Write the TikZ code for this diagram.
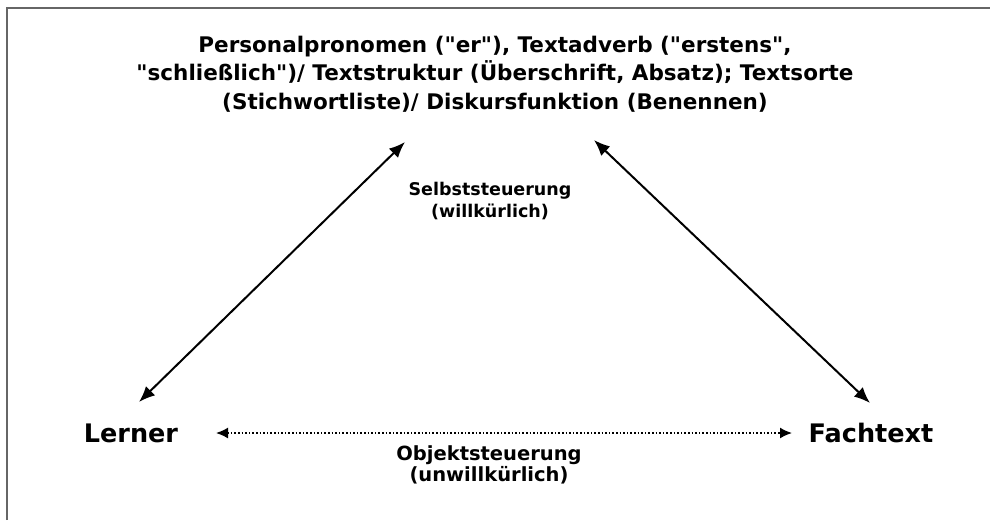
\documentclass[tikz,border=0pt]{standalone}
\usepackage{fontspec}
\setmainfont{DejaVu Sans}
\newfontfamily\headfont{DejaVu Sans Bold}
\usetikzlibrary{arrows.meta}
\tikzset{
  title/.style={font=\headfont\fontsize{21.5}{28.5}\selectfont, align=center},
  pole/.style={font=\headfont\fontsize{25.5}{30}\selectfont},
  lbl/.style={font=\headfont\fontsize{#1}{21.5}\selectfont, align=center, inner sep=0pt},
  link/.style={line width=2pt, {Latex[length=16pt,width=13pt]}-{Latex[length=16pt,width=13pt]}},
  dotlink/.style={line width=1.6pt, dotted, {Latex[length=12pt,width=11pt]}-{Latex[length=12pt,width=11pt]}},
}
\begin{document}
\begin{tikzpicture}[x=1pt,y=-1pt]
  % page and frame
  \fill[white] (0,0) rectangle (990,520);
  \useasboundingbox (0,0) rectangle (990,520);
  \draw[gray!80!black, line width=2pt] (7,520) -- (7,7.5) -- (990,7.5);

  % nodes
  \node[title] (top) at (495,74) {Personalpronomen ("er"), Textadverb ("erstens",\\
    "schließlich")/ Textstruktur (Überschrift, Absatz); Textsorte\\
    (Stichwortliste)/ Diskursfunktion (Benennen)};
  \node[pole] (lern) at (131,433) {Lerner};
  \node[pole] (fach) at (871,433) {Fachtext};

  \coordinate (tl) at (405,142);
  \coordinate (tr) at (594,140);
  \coordinate (bl) at (139,402);
  \coordinate (br) at (870,403);
  \coordinate (dl) at (216,433);
  \coordinate (dr) at (792,433);

  % connectors
  \draw[link] (bl) -- (tl);
  \draw[link] (tr) -- (br);
  \draw[dotlink] (dl) -- (dr);

  % connector labels
  \node[lbl=17.5] (selbst) at (490,201) {Selbststeuerung\\(willkürlich)};
  \node[lbl=19.5] (objekt) at (489,465) {Objektsteuerung\\(unwillkürlich)};
\end{tikzpicture}
\end{document}
